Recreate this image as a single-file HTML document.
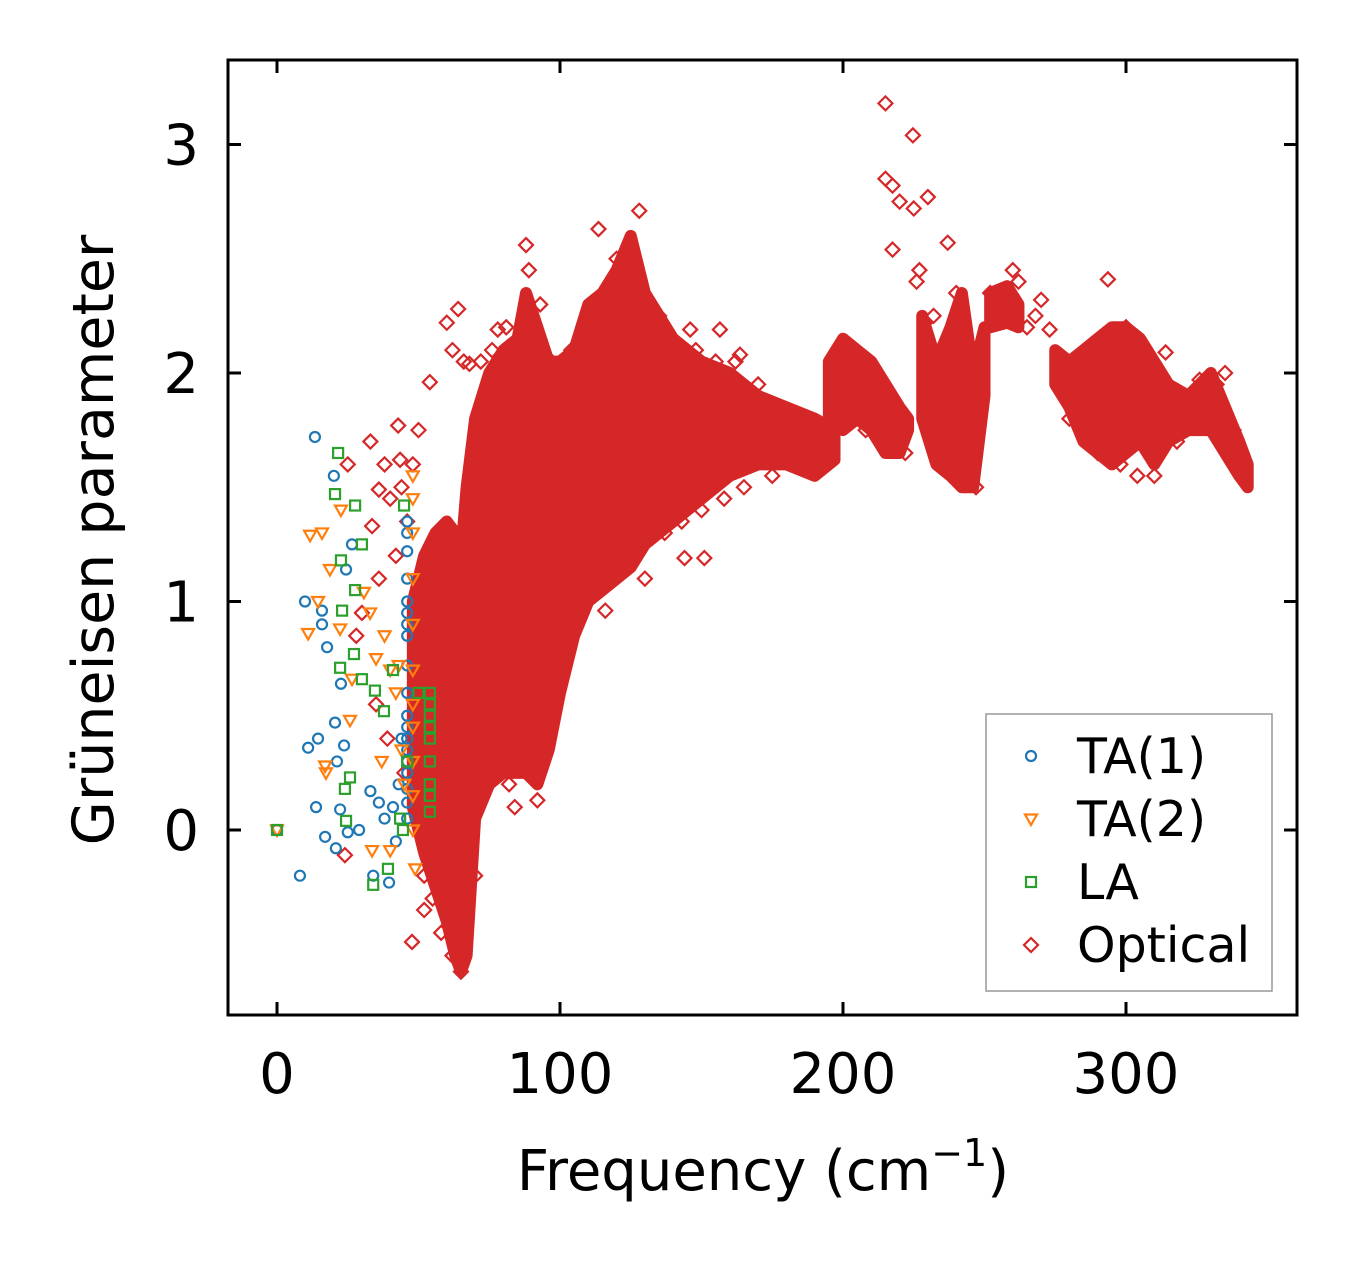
<!DOCTYPE html>
<html><head><meta charset="utf-8">
<style>
html,body{margin:0;padding:0;background:#fff;}
svg{display:block;font-family:"DejaVu Sans","Liberation Sans",sans-serif;}
</style></head>
<body>
<svg id="chart" width="1357" height="1264" viewBox="0 0 1357 1264" xmlns="http://www.w3.org/2000/svg">
<rect width="1357" height="1264" fill="#fff"/>
<g id="plot"></g>
<g id="axes"></g>
<text x="763" y="1190" font-size="56" text-anchor="middle">Frequency (cm<tspan font-size="38" dy="-24">−1</tspan><tspan dy="24">)</tspan></text>
<text transform="translate(113,540) rotate(-90)" font-size="57" text-anchor="middle">Grüneisen parameter</text>
<g id="legend"></g>
</svg>
<script>
const xTicks=[0,100,200,300];
const yTicks=[0,1,2,3];
const ta1F=[0,13.4,20.1,9.9,15.9,15.9,17.7,22.6,20.5,14.5,11,23.7,21.2,13.8,22.3,17,20.8,8.1,25,29,33,34,39.6,26.5,24.4,46,46,46,46,46,46,46,46,46,46,46,46,46,46,46,46,46,46,46,41,43,44,38,36,42];
const ta1G=[0,1.72,1.55,1.0,0.96,0.9,0.8,0.64,0.47,0.4,0.36,0.37,0.3,0.1,0.09,-0.03,-0.08,-0.2,-0.01,0.0,0.17,-0.2,-0.23,1.25,1.14,1.35,1.3,1.22,1.1,1.0,0.95,0.9,0.85,0.72,0.6,0.5,0.45,0.4,0.35,0.3,0.25,0.18,0.12,0.05,0.1,0.2,0.4,0.05,0.12,-0.05];
const ta2F=[0,11.7,15.9,22.6,11,14.5,18.7,22.3,26.5,17.3,17,25.8,48,48,48,48,48,48,48,48,48,48,48,38,40,42,44,45,37,48.8,40,33.6,30.7,32.9,35,43];
const ta2G=[0,1.29,1.3,1.4,0.86,1.0,1.14,0.88,0.66,0.25,0.28,0.48,1.55,1.45,1.3,1.1,0.9,0.7,0.55,0.45,0.3,0.15,0.0,0.85,0.7,0.6,0.35,0.2,0.3,-0.17,-0.09,-0.09,1.04,0.95,0.75,0.72];
const laF=[0,21.6,20.5,27.6,22.6,30,23,27.6,27.2,22.3,30,25.8,24,24.4,34,39.2,44.5,44.9,43.5,54,54,54,54,54,54,54,54,54,34.6,37.8,41,46,50];
const laG=[0,1.65,1.47,1.42,1.18,1.25,0.96,1.05,0.77,0.71,0.66,0.23,0.18,0.04,-0.24,-0.17,0,1.42,0.05,0.08,0.15,0.2,0.3,0.4,0.45,0.5,0.55,0.6,0.61,0.52,0.7,0.3,0.6];
const optF=[47.7,215,224.7,217.5,217.5,227,237,230,293.6,260,270,273,128,113.6,88,64,42.8,25,24,92,84,144,151,130,116,75,52,33,36,33.6,43.5,54,68,78,156.5,146,163.6,306,314,326,328.6,316,225,229,240,258,265,60,62,120,135,
 38,40,44,48,50,46,42,36,30,28,35,39,45,52,55,58,62,65,70,73,78,82,86,90,94,98,102,106,110,104,97,93,89,81,76,72,66,140,148,155,162,170,178,185,192,175,165,158,150,143,137,200,205,210,218,222,226,232,236,240,244,247,252,256,262,268,280,286,290,298,304,310,318,324,332,338,342,288,300,335,215,220,203,208];
const optG=[-0.49,3.18,3.04,2.82,2.54,2.45,2.57,2.77,2.41,2.45,2.32,2.19,2.71,2.63,2.56,2.28,1.77,1.6,-0.11,0.13,0.1,1.19,1.19,1.1,0.96,0.23,-0.35,1.7,1.49,1.33,1.62,1.96,2.04,2.19,2.19,2.19,2.08,2.09,2.09,1.97,1.93,1.73,2.72,2.22,2.35,2.3,2.2,2.22,2.1,2.5,2.25,
 1.6,1.45,1.5,1.6,1.75,1.35,1.2,1.1,0.95,0.85,0.55,0.4,0.25,-0.2,-0.3,-0.45,-0.55,-0.62,-0.2,0.25,0.3,0.2,0.3,0.25,0.45,0.6,0.9,1.0,1.05,2.1,2.05,2.3,2.45,2.2,2.1,2.05,2.05,2.15,2.1,2.05,2.05,1.95,1.85,1.8,1.78,1.55,1.5,1.45,1.4,1.35,1.3,1.9,2.05,1.95,1.7,1.65,2.4,2.25,2.0,1.85,1.65,1.5,2.35,2.3,2.4,2.25,1.8,1.7,1.65,1.6,1.55,1.55,1.7,1.8,1.95,1.75,1.55,1.95,2.2,2.0,2.85,2.75,2.0,1.75];
// dense optical band: frequency, lower, upper (NaN = gap between clusters)
const bandF=[48,52,56,60,63,65,67,70,75,80,85,88,92,96,100,105,110,115,120,125,130,140,150,160,170,180,190,197,NaN,195,200,205,210,215,220,223,NaN,228,233,238,242,246,250,NaN,252,258,262,NaN,275,280,285,290,295,300,305,310,315,322,330,335,340,343];
const bandLo=[0.1,-0.1,-0.25,-0.4,-0.55,-0.62,-0.55,0.05,0.2,0.25,0.25,0.25,0.2,0.35,0.6,0.85,1.0,1.05,1.1,1.15,1.25,1.35,1.45,1.55,1.6,1.6,1.55,1.62,NaN,1.8,1.75,1.8,1.75,1.65,1.65,1.75,NaN,1.8,1.6,1.55,1.5,1.5,1.9,NaN,2.2,2.22,2.2,NaN,1.95,1.85,1.7,1.65,1.6,1.65,1.7,1.6,1.7,1.75,1.75,1.65,1.55,1.5];
const bandHi=[1.0,1.2,1.3,1.35,1.3,1.2,1.5,1.8,2.0,2.1,2.15,2.35,2.2,2.05,2.05,2.1,2.3,2.35,2.45,2.6,2.35,2.15,2.05,2.0,1.9,1.85,1.8,1.75,NaN,2.05,2.15,2.1,2.05,1.95,1.85,1.8,NaN,2.25,2.05,2.2,2.35,2.0,2.2,NaN,2.35,2.38,2.3,NaN,2.1,2.05,2.1,2.15,2.2,2.2,2.15,2.05,1.95,1.9,2.0,1.85,1.7,1.6];

const X0=228,X1=1297,Y0=60,Y1=1015;
const sx=f=>277+f*2.83;
const sy=g=>830-g*228.5;
const NS='http://www.w3.org/2000/svg';
function mk(tag,attrs,parent){const e=document.createElementNS(NS,tag);for(const k in attrs)e.setAttribute(k,attrs[k]);parent.appendChild(e);return e;}
const plot=document.getElementById('plot');
const RED='#d62728',BLUE='#1f77b4',ORANGE='#ff7f0e',GREEN='#2ca02c';

let seg=[];
function flush(){
  if(seg.length<2){seg=[];return;}
  let d='M'+seg.map(i=>sx(bandF[i])+','+sy(bandHi[i])).join('L');
  d+='L'+seg.slice().reverse().map(i=>sx(bandF[i])+','+sy(bandLo[i])).join('L')+'Z';
  const p=mk('path',{d:d,fill:RED,stroke:RED,'stroke-width':12,'stroke-linejoin':'round'},plot);
  
  
  seg=[];
}
for(let i=0;i<bandF.length;i++){if(isNaN(bandF[i]))flush();else seg.push(i);}
flush();

function diamond(x,y,c,parent){const s=7;return mk('path',{d:`M${x},${y-s}L${x+s},${y}L${x},${y+s}L${x-s},${y}Z`,fill:'none',stroke:c,'stroke-width':2.2},parent);}
function circle(x,y,c,parent){return mk('circle',{cx:x,cy:y,r:5,fill:'none',stroke:c,'stroke-width':2.2},parent);}
function tri(x,y,c,parent){return mk('path',{d:`M${x-6},${y-4.5}L${x+6},${y-4.5}L${x},${y+6}Z`,fill:'none',stroke:c,'stroke-width':2.2},parent);}
function sq(x,y,c,parent){return mk('rect',{x:x-5,y:y-5,width:10,height:10,fill:'none',stroke:c,'stroke-width':2.2},parent);}

optF.forEach((f,i)=>{const e=diamond(sx(f),sy(optG[i]),RED,plot);

});
ta1F.forEach((f,i)=>{const e=circle(sx(f),sy(ta1G[i]),BLUE,plot);

});
ta2F.forEach((f,i)=>{const e=tri(sx(f),sy(ta2G[i]),ORANGE,plot);

});
laF.forEach((f,i)=>{const e=sq(sx(f),sy(laG[i]),GREEN,plot);

});

const ax=document.getElementById('axes');
const fr=mk('rect',{x:X0,y:Y0,width:X1-X0,height:Y1-Y0,fill:'none',stroke:'#000','stroke-width':3},ax);


xTicks.forEach(t=>{const x=sx(t);
 mk('line',{x1:x,y1:Y1,x2:x,y2:Y1-13,stroke:'#000','stroke-width':3},ax);
 mk('line',{x1:x,y1:Y0,x2:x,y2:Y0+13,stroke:'#000','stroke-width':3},ax);
 const l=mk('text',{x:x,y:1093,'font-size':56,'text-anchor':'middle'},ax);l.textContent=t;
 
 });
yTicks.forEach(t=>{const y=sy(t);
 mk('line',{x1:X0,y1:y,x2:X0+13,y2:y,stroke:'#000','stroke-width':3},ax);
 mk('line',{x1:X1,y1:y,x2:X1-13,y2:y,stroke:'#000','stroke-width':3},ax);
 const l=mk('text',{x:199,y:y+20,'font-size':56,'text-anchor':'end'},ax);l.textContent=t;
 
 });

const lg=document.getElementById('legend');
mk('rect',{x:986,y:714,width:286,height:277,fill:'#fff','fill-opacity':0.8,stroke:'#999','stroke-width':1.5},lg);
const entries=[['TA(1)',BLUE,circle],['TA(2)',ORANGE,tri],['LA',GREEN,sq],['Optical',RED,diamond]];
entries.forEach((en,i)=>{const y=756+i*63;
 const g=mk('g',{},lg);
 
 
 en[2](1031,y,en[1],g);
 const t=mk('text',{x:1077,y:y+17,'font-size':49},g);t.textContent=en[0];});
</script>
</body></html>
